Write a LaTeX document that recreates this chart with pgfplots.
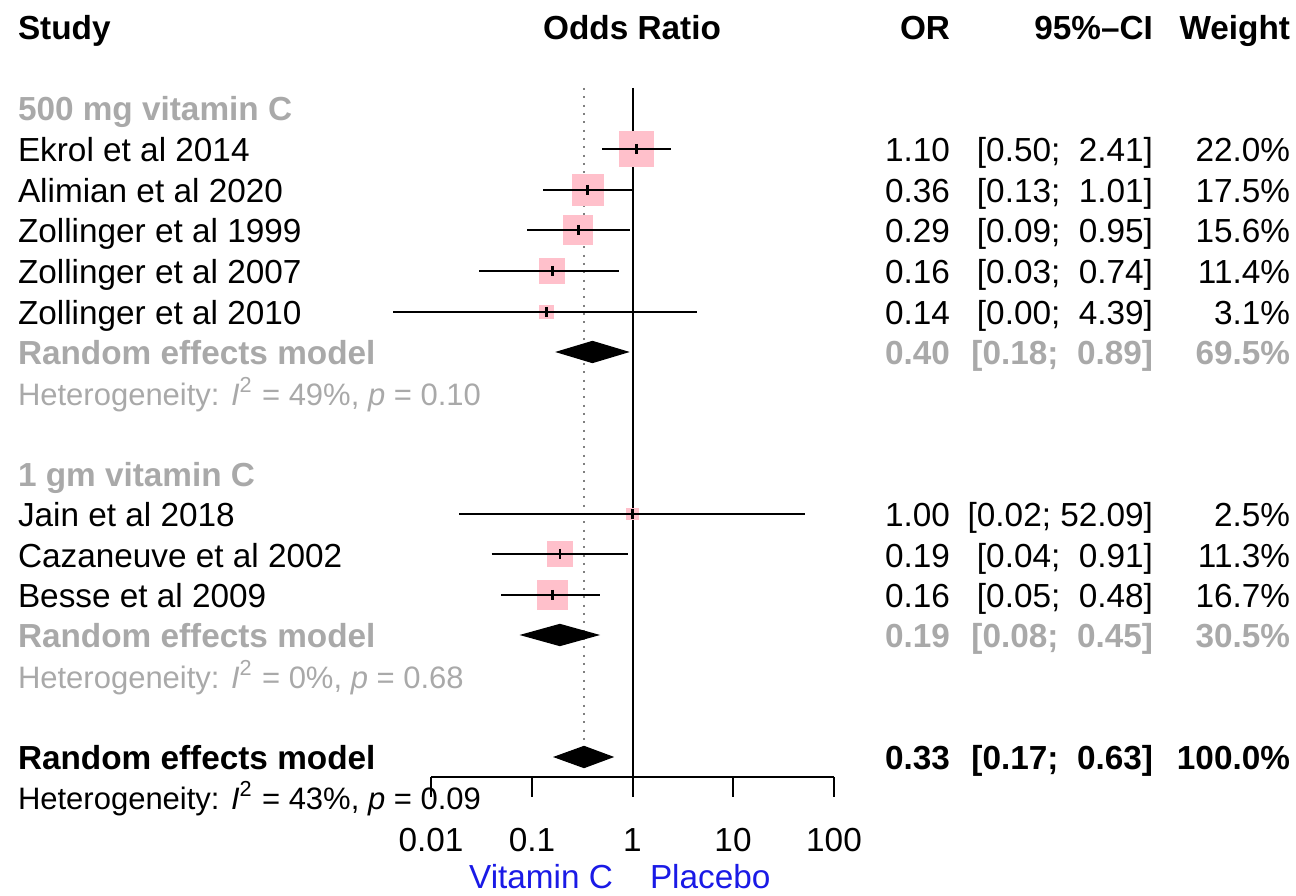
\documentclass[border=0pt]{standalone}
\usepackage{pgfplots}
\pgfplotsset{compat=1.18}
\usepackage{pgfplotstable}
\usepackage{fontspec}
\setmainfont{Liberation Sans}
\definecolor{grp}{HTML}{A9A9A9}
\definecolor{sq}{HTML}{FFC0CB}
\definecolor{lab}{HTML}{1A1AE6}

% study estimates: OR, y position (pixels from bottom), square side (px)
\pgfplotstableread{
or   y   sz
1.10 746 34.0
0.36 705 30.3
0.29 665 28.6
0.16 624 24.5
0.14 583 12.8
1.00 381 11.5
0.19 341 24.4
0.16 300 29.6
}\studies

\newcommand\het{\fontsize{9.3}{11}\selectfont}

\begin{document}
\begin{tikzpicture}
\begin{axis}[hide axis, scale only axis, width=388.8pt, height=268.5pt,
  xmode=log, xmin=5.236e-7, xmax=3.88e6, ymin=0, ymax=895,
  clip=false, clip mode=individual]
% reference lines
\addplot[black, line width=0.6pt] coordinates {(1,807) (1,118)};
\addplot[gray, line width=0.6pt, dash pattern=on 0.6pt off 1.9pt] coordinates {(0.33,807) (0.33,149)};
% squares
\addplot[scatter, only marks, mark=square*, draw=sq, fill=sq,
  mark options={draw=sq, fill=sq},
  scatter/use mapped color={draw=sq, fill=sq},
  visualization depends on={\thisrow{sz} \as \sz},
  scatter/@pre marker code/.append style={/tikz/mark size=0.15pt*\sz}]
  table[x=or, y=y] {\studies};
% confidence intervals
\addplot[black, line width=0.6pt] coordinates {(0.50,746) (2.41,746)};
\addplot[black, line width=0.6pt] coordinates {(0.13,705) (1.01,705)};
\addplot[black, line width=0.6pt] coordinates {(0.09,665) (0.95,665)};
\addplot[black, line width=0.6pt] coordinates {(0.03,624) (0.74,624)};
\addplot[black, line width=0.6pt] coordinates {(0.0042,583) (4.39,583)};
\addplot[black, line width=0.6pt] coordinates {(0.019,381) (52.09,381)};
\addplot[black, line width=0.6pt] coordinates {(0.04,341) (0.91,341)};
\addplot[black, line width=0.6pt] coordinates {(0.05,300) (0.48,300)};
% point estimates
\addplot[only marks, mark=|, mark size=1.5pt, mark options={line width=0.8pt, black}]
  table[x=or, y=y] {\studies};
% pooled estimates
\addplot[fill=black, draw=black] coordinates {(0.18,543) (0.40,553.5) (0.89,543) (0.40,532.5)} -- cycle;
\addplot[fill=black, draw=black] coordinates {(0.08,260) (0.19,270.5) (0.45,260) (0.19,249.5)} -- cycle;
\addplot[fill=black, draw=black] coordinates {(0.17,138) (0.33,148.5) (0.63,138) (0.33,127.5)} -- cycle;
% x axis
\addplot[black, line width=0.6pt] coordinates {(0.01,118) (100,118)};
\addplot[only marks, mark=|, mark size=3pt, mark options={line width=0.6pt, black}]
  coordinates {(0.01,108) (0.1,108) (1,108) (10,108) (100,108)};
\end{axis}

\begin{scope}[x=0.3pt, y=-0.3pt, yshift=268.5pt, font=\fontsize{10}{12}\selectfont,
  every node/.style={inner sep=0pt, outer sep=0pt}]
% header
\node[anchor=base west] at (18,40) {\bfseries Study};
\node[anchor=base] at (632,40) {\bfseries Odds Ratio};
\node[anchor=base east] at (950,40) {\bfseries OR};
\node[anchor=base east] at (1153,40) {\bfseries 95\%--CI};
\node[anchor=base east] at (1290,40) {\bfseries Weight};
% group 1
\node[anchor=base west, text=grp] at (18,120) {\bfseries 500 mg vitamin C};
\node[anchor=base west] at (18,161) {Ekrol et al 2014};
\node[anchor=base west] at (18,202) {Alimian et al 2020};
\node[anchor=base west] at (18,242) {Zollinger et al 1999};
\node[anchor=base west] at (18,283) {Zollinger et al 2007};
\node[anchor=base west] at (18,324) {Zollinger et al 2010};
\node[anchor=base west, text=grp] at (18,364) {\bfseries Random effects model};
\node[anchor=base west, text=grp] at (18,405) {\het Heterogeneity: \textit{I}\textsuperscript{2} = 49\%, \textit{p} = 0.10};
\node[anchor=base east] at (950,161) {1.10};
\node[anchor=base east] at (950,202) {0.36};
\node[anchor=base east] at (950,242) {0.29};
\node[anchor=base east] at (950,283) {0.16};
\node[anchor=base east] at (950,324) {0.14};
\node[anchor=base east, text=grp] at (950,364) {\bfseries 0.40};
\node[anchor=base east] at (1153,161) {[0.50;\ \ 2.41]};
\node[anchor=base east] at (1153,202) {[0.13;\ \ 1.01]};
\node[anchor=base east] at (1153,242) {[0.09;\ \ 0.95]};
\node[anchor=base east] at (1153,283) {[0.03;\ \ 0.74]};
\node[anchor=base east] at (1153,324) {[0.00;\ \ 4.39]};
\node[anchor=base east, text=grp] at (1153,364) {\bfseries [0.18;\ \ 0.89]};
\node[anchor=base east] at (1290,161) {22.0\%};
\node[anchor=base east] at (1290,202) {17.5\%};
\node[anchor=base east] at (1290,242) {15.6\%};
\node[anchor=base east] at (1290,283) {11.4\%};
\node[anchor=base east] at (1290,324) {3.1\%};
\node[anchor=base east, text=grp] at (1290,364) {\bfseries 69.5\%};
% group 2
\node[anchor=base west, text=grp] at (18,486) {\bfseries 1 gm vitamin C};
\node[anchor=base west] at (18,526) {Jain et al 2018};
\node[anchor=base west] at (18,567) {Cazaneuve et al 2002};
\node[anchor=base west] at (18,607) {Besse et al 2009};
\node[anchor=base west, text=grp] at (18,647) {\bfseries Random effects model};
\node[anchor=base west, text=grp] at (18,688) {\het Heterogeneity: \textit{I}\textsuperscript{2} = 0\%, \textit{p} = 0.68};
\node[anchor=base east] at (950,526) {1.00};
\node[anchor=base east] at (950,567) {0.19};
\node[anchor=base east] at (950,607) {0.16};
\node[anchor=base east, text=grp] at (950,647) {\bfseries 0.19};
\node[anchor=base east] at (1153,526) {[0.02; 52.09]};
\node[anchor=base east] at (1153,567) {[0.04;\ \ 0.91]};
\node[anchor=base east] at (1153,607) {[0.05;\ \ 0.48]};
\node[anchor=base east, text=grp] at (1153,647) {\bfseries [0.08;\ \ 0.45]};
\node[anchor=base east] at (1290,526) {2.5\%};
\node[anchor=base east] at (1290,567) {11.3\%};
\node[anchor=base east] at (1290,607) {16.7\%};
\node[anchor=base east, text=grp] at (1290,647) {\bfseries 30.5\%};
% overall
\node[anchor=base west] at (18,769) {\bfseries Random effects model};
\node[anchor=base west] at (18,809) {\het Heterogeneity: \textit{I}\textsuperscript{2} = 43\%, \textit{p} = 0.09};
\node[anchor=base east] at (950,769) {\bfseries 0.33};
\node[anchor=base east] at (1153,769) {\bfseries [0.17;\ \ 0.63]};
\node[anchor=base east] at (1290,769) {\bfseries 100.0\%};
% tick labels
\node[anchor=base] at (431,851) {0.01};
\node[anchor=base] at (532,851) {0.1};
\node[anchor=base] at (632.5,851) {1};
\node[anchor=base] at (733,851) {10};
\node[anchor=base] at (834,851) {100};
\node[anchor=base east, text=lab] at (613,888) {Vitamin C};
\node[anchor=base west, text=lab] at (650,888) {Placebo};
\end{scope}
\pgfresetboundingbox
\path (0,0) rectangle (388.8pt,268.5pt);
\end{tikzpicture}
\end{document}
